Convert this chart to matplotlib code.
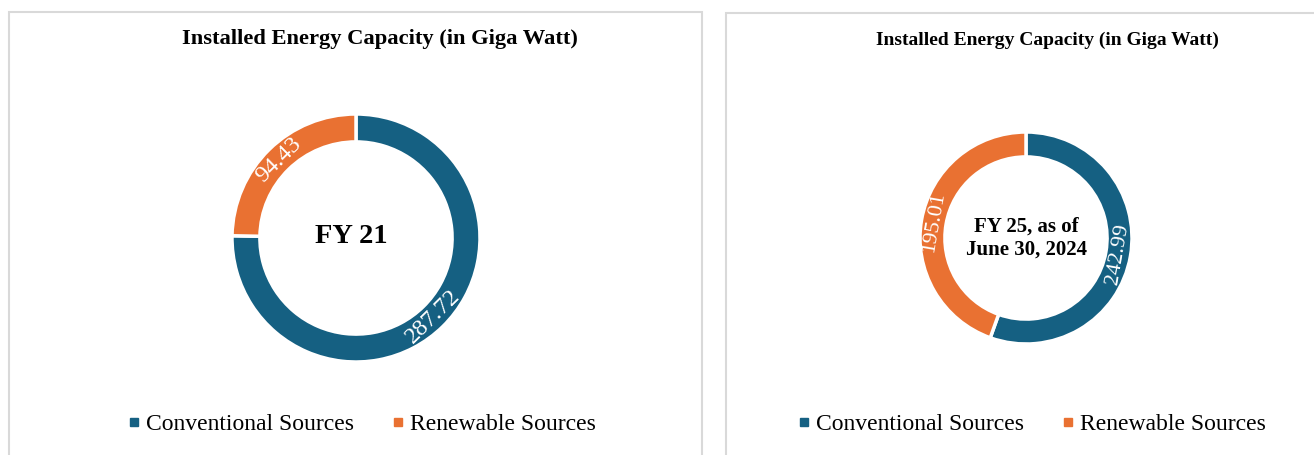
import numpy as np
import matplotlib
matplotlib.use("Agg")
import matplotlib.pyplot as plt
from matplotlib.patches import Rectangle
from matplotlib.lines import Line2D

# ---- data ----
categories = ["Conventional Sources", "Renewable Sources"]
fy21_values = [287.72, 94.43]
fy25_values = [242.99, 195.01]
fy21_labels = ["287.72", "94.43"]
fy25_labels = ["242.99", "195.01"]
title_text = "Installed Energy Capacity (in Giga Watt)"
center_left = "FY 21"
center_right = "FY 25, as of\nJune 30, 2024"
colors = ["#156082", "#E97132"]

W, H = 1314, 455
SERIF = ["Liberation Serif", "DejaVu Serif"]
plt.rcParams["font.family"] = SERIF

fig = plt.figure(figsize=(W / 100, H / 100), dpi=100)


def px_rect(x0, y0, x1, y1, **kw):
    fig.patches.append(Rectangle((x0 / W, 1 - y1 / H), (x1 - x0) / W, (y1 - y0) / H,
                                 transform=fig.transFigure, fill=False, **kw))


# panel borders
px_rect(9, 12, 702, 470, edgecolor="#D9D9D9", linewidth=1.5)
px_rect(726, 13, 1330, 470, edgecolor="#D9D9D9", linewidth=1.5)


def donut(cx, cy, R, values, labels, center, center_fs, label_fs, width_frac):
    side = 2 * R * 1.2
    ax = fig.add_axes([(cx - side / 2) / W, (H - cy - side / 2) / H, side / W, side / H])
    wedges, _ = ax.pie(values, colors=colors, startangle=90, counterclock=False,
                       radius=1.0, wedgeprops=dict(width=width_frac, edgecolor="white",
                                                   linewidth=2.5))
    ax.set_xlim(-1.2, 1.2)
    ax.set_ylim(-1.2, 1.2)
    ax.set_aspect("equal")
    ax.axis("off")
    rmid = 1.0 - width_frac / 2
    for w, lab in zip(wedges, labels):
        ang = (w.theta1 + w.theta2) / 2
        a = np.deg2rad(ang)
        rot = ang - 90
        rot = (rot + 180) % 360 - 180
        if rot > 90:
            rot -= 180
        elif rot <= -90:
            rot += 180
        ax.text(rmid * np.cos(a), rmid * np.sin(a), lab, rotation=rot,
                rotation_mode="anchor", ha="center", va="center",
                color="white", fontsize=label_fs)
    multi = "\n" in center
    ax.text(0.0 if multi else -0.04, 0.0 if multi else 0.015, center,
            ha="center", va="center", fontsize=center_fs, fontweight="bold",
            linespacing=1.2)
    return ax


donut(356, 238, 124, fy21_values, fy21_labels, center_left, 20.5, 17.5, 0.225)
donut(1026, 238, 106, fy25_values, fy25_labels, center_right, 15, 16, 0.235)

fig.text(380 / W, 1 - 44 / H, title_text, ha="center", va="baseline",
         fontsize=16.2, fontweight="bold")
fig.text(1047 / W, 1 - 45 / H, title_text, ha="center", va="baseline",
         fontsize=14, fontweight="bold")

handles = [Line2D([], [], marker="s", linestyle="none", markersize=5.5,
                  markerfacecolor=c, markeredgecolor=c) for c in colors]
for xc in (362, 1032):
    fig.legend(handles, categories, loc="center", bbox_to_anchor=(xc / W, 1 - 424 / H),
               ncol=2, frameon=False, fontsize=17, handlelength=0.5, handletextpad=0.25,
               columnspacing=1.65, borderpad=0, borderaxespad=0)

fig.savefig("out.png", dpi=100)
